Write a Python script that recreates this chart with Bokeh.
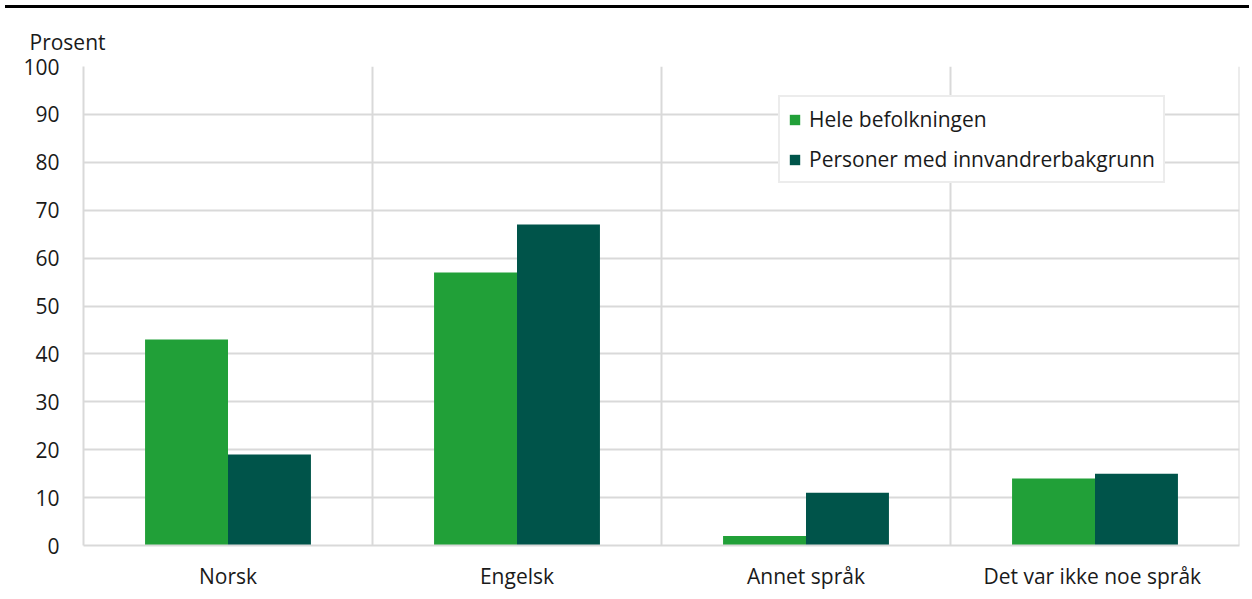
from bokeh.plotting import figure
from bokeh.models import ColumnDataSource, FactorRange, Range1d, Span, Legend, LegendItem, FixedTicker, Div
from bokeh.transform import dodge
from bokeh.layouts import column
from bokeh.embed import file_html
from bokeh.resources import INLINE

categories = ["Norsk", "Engelsk", "Annet språk", "Det var ikke  noe språk"]
hele = [43, 57, 2, 14]
innv = [19, 67, 11, 15]
series_names = ["Hele befolkningen", "Personer med innvandrerbakgrunn"]
colors = ["#21a038", "#00544a"]
y_ticks = [0, 10, 20, 30, 40, 50, 60, 70, 80, 90, 100]
y_label = "Prosent"

FONT = "Open Sans"
TXT = "#1a1a1a"
GRID = "#d9d9d9"
FS = "21px"

src = ColumnDataSource(dict(cat=categories, hele=hele, innv=innv))

p = figure(x_range=FactorRange(*categories), y_range=Range1d(0, 100),
           width=1244, height=580, output_backend="svg", toolbar_location=None,
           min_border_left=83, min_border_right=5, min_border_top=53, min_border_bottom=48)
p.x_range.range_padding = 0

bw = 0.287
r1 = p.vbar(x=dodge("cat", -bw / 2, range=p.x_range), top="hele", width=bw, source=src,
            fill_color=colors[0], line_color=None)
r2 = p.vbar(x=dodge("cat", bw / 2, range=p.x_range), top="innv", width=bw, source=src,
            fill_color=colors[1], line_color=None)

for loc in [1, 2, 3, 4]:
    p.add_layout(Span(location=loc, dimension="height", line_color=GRID, line_width=2, level="underlay"))

p.xgrid.visible = False
p.ygrid.ticker = FixedTicker(ticks=y_ticks)
p.ygrid.grid_line_color = GRID
p.ygrid.grid_line_width = 2
p.outline_line_color = None

p.yaxis.ticker = FixedTicker(ticks=y_ticks)
for ax in [p.xaxis[0], p.yaxis[0]]:
    ax.axis_line_color = GRID
    ax.axis_line_width = 2
    ax.major_tick_line_color = None
    ax.minor_tick_line_color = None
    ax.major_label_text_font = FONT
    ax.major_label_text_font_size = FS
    ax.major_label_text_color = TXT
p.yaxis.major_label_standoff = 18
p.xaxis.major_label_standoff = 10

p.title.text = y_label
p.title.align = "left"
p.title.offset = -54
p.title.standoff = 22
p.title.text_font = FONT
p.title.text_font_size = FS
p.title.text_font_style = "normal"
p.title.text_color = TXT

legend = Legend(items=[LegendItem(label=series_names[0], renderers=[r1]),
                       LegendItem(label=series_names[1], renderers=[r2])],
                location=(695, 362))
legend.border_line_color = GRID
legend.border_line_width = 2
legend.background_fill_alpha = 1
legend.label_text_font = FONT
legend.label_text_font_size = FS
legend.label_text_color = TXT
legend.glyph_width = 13
legend.glyph_height = 13
legend.label_height = 20
legend.label_standoff = 8
legend.spacing = 12
legend.padding = 8
legend.margin = 0
p.add_layout(legend)

top_line = Div(text="", width=1244, height=3, styles={"background-color": "#000000"})
layout = column(top_line, p, spacing=0)

open("out.html", "w").write(file_html(layout, INLINE))
